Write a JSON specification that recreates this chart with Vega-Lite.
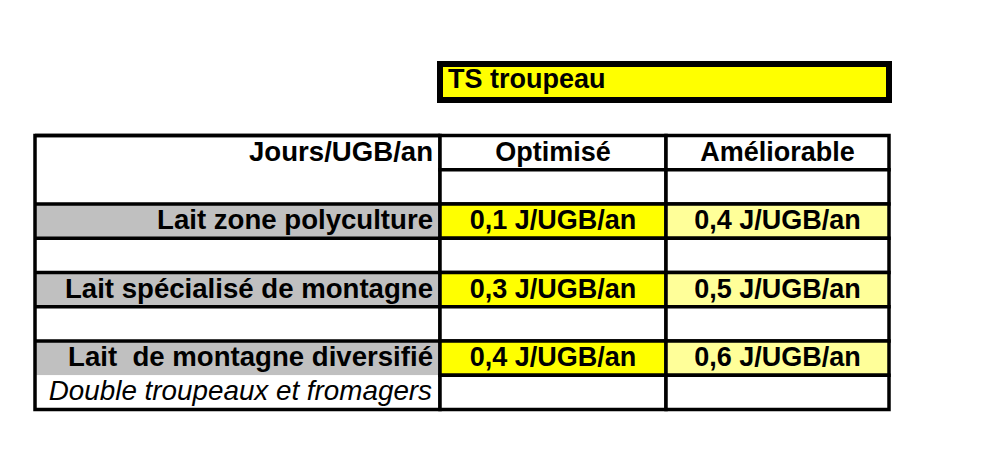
{
  "$schema": "https://vega.github.io/schema/vega-lite/v6.json",
  "background": "white",
  "padding": {"left": 33, "top": 61, "right": 5, "bottom": 5},
  "config": {
    "view": {"stroke": null},
    "scale": {"bandPaddingInner": 0, "bandPaddingOuter": 0},
    "text": {"font": "Liberation Sans", "fontSize": 27, "color": "black"}
  },
  "datasets": {
    "cells": [
      {"col": "label", "row": 1, "text": "Jours/UGB/an", "kind": "head", "merged": false},
      {"col": "label", "row": 2, "text": "", "kind": "blank", "merged": true},
      {"col": "label", "row": 3, "text": "Lait zone polyculture", "kind": "label", "merged": false},
      {"col": "label", "row": 4, "text": "", "kind": "blank", "merged": false},
      {"col": "label", "row": 5, "text": "Lait spécialisé de montagne\u00a0", "kind": "label", "merged": false},
      {"col": "label", "row": 6, "text": "", "kind": "blank", "merged": false},
      {"col": "label", "row": 7, "text": "Lait\u00a0 de montagne diversifié", "kind": "label", "merged": false},
      {"col": "label", "row": 8, "text": "Double troupeaux et fromagers", "kind": "note", "merged": true},
      {"col": "opt", "row": 1, "text": "Optimisé", "kind": "head", "merged": false},
      {"col": "opt", "row": 2, "text": "", "kind": "blank", "merged": false},
      {"col": "opt", "row": 3, "text": "0,1 J/UGB/an", "kind": "opt", "merged": false},
      {"col": "opt", "row": 4, "text": "", "kind": "blank", "merged": false},
      {"col": "opt", "row": 5, "text": "0,3 J/UGB/an", "kind": "opt", "merged": false},
      {"col": "opt", "row": 6, "text": "", "kind": "blank", "merged": false},
      {"col": "opt", "row": 7, "text": "0,4 J/UGB/an", "kind": "opt", "merged": false},
      {"col": "opt", "row": 8, "text": "", "kind": "blank", "merged": false},
      {"col": "amel", "row": 1, "text": "Améliorable", "kind": "head", "merged": false},
      {"col": "amel", "row": 2, "text": "", "kind": "blank", "merged": false},
      {"col": "amel", "row": 3, "text": "0,4 J/UGB/an", "kind": "amel", "merged": false},
      {"col": "amel", "row": 4, "text": "", "kind": "blank", "merged": false},
      {"col": "amel", "row": 5, "text": "0,5 J/UGB/an", "kind": "amel", "merged": false},
      {"col": "amel", "row": 6, "text": "", "kind": "blank", "merged": false},
      {"col": "amel", "row": 7, "text": "0,6 J/UGB/an", "kind": "amel", "merged": false},
      {"col": "amel", "row": 8, "text": "", "kind": "blank", "merged": false}
    ],
    "title": [{"text": "TS troupeau"}]
  },
  "bounds": "flush",
  "spacing": 71.5,
  "vconcat": [
    {
      "bounds": "flush",
      "spacing": 0,
      "hconcat": [
        {
          "width": 405,
          "height": 36,
          "data": {"values": [{}]},
          "mark": {"type": "rect", "opacity": 0},
          "encoding": {}
        },
        {
          "width": 449,
          "height": 36,
          "data": {"name": "title"},
          "layer": [
            {
              "mark": {"type": "rect", "fill": "#FFFF00", "stroke": "black", "strokeWidth": 6},
              "encoding": {}
            },
            {
              "mark": {"type": "text", "align": "left", "fontWeight": "bold", "dx": 8, "dy": -2},
              "encoding": {"x": {"value": 0}, "text": {"field": "text"}}
            }
          ]
        }
      ]
    },
    {
      "bounds": "flush",
      "spacing": 0,
      "hconcat": [
        {
          "width": 405,
          "height": 274,
          "layer": [
            {
              "data": {"name": "cells"},
              "transform": [{"filter": "datum.col === 'label'"}],
              "mark": {"type": "rect"},
              "encoding": {
                "y": {"field": "row", "type": "ordinal", "axis": null},
                "fill": {"field": "kind", "type": "nominal", "legend": null,
                  "scale": {"domain": ["head", "blank", "label", "note", "opt", "amel"],
                            "range": ["#FFFFFF", "#FFFFFF", "#C0C0C0", "#FFFFFF", "#FFFF00", "#FFFF99"]}}
              }
            },
            {
              "data": {"name": "cells"},
              "transform": [{"filter": "datum.col === 'label' && !datum.merged"}],
              "mark": {"type": "rule", "stroke": "black", "strokeWidth": 3.5},
              "encoding": {"y": {"field": "row", "type": "ordinal", "bandPosition": 0, "axis": null}}
            },
            {
              "data": {"name": "cells"},
              "transform": [{"filter": "datum.col === 'label' && datum.kind !== 'note'"}],
              "mark": {"type": "text", "align": "right", "fontWeight": "bold", "fontSize": 27.6, "dx": -7},
              "encoding": {
                "y": {"field": "row", "type": "ordinal", "axis": null},
                "x": {"value": "width"},
                "text": {"field": "text"}
              }
            },
            {
              "data": {"name": "cells"},
              "transform": [{"filter": "datum.col === 'label' && datum.kind === 'note'"}],
              "mark": {"type": "text", "align": "right", "fontStyle": "italic", "fontWeight": "normal", "fontSize": 27.8, "dx": -8},
              "encoding": {
                "y": {"field": "row", "type": "ordinal", "axis": null},
                "x": {"value": "width"},
                "text": {"field": "text"}
              }
            },
            {
              "data": {"values": [{}]},
              "mark": {"type": "rect", "fill": "transparent", "stroke": "black", "strokeWidth": 3.5},
              "encoding": {}
            }
          ]
        },
        {
          "width": 226,
          "height": 274,
          "data": {"name": "cells"},
          "transform": [{"filter": "datum.col === 'opt'"}],
          "encoding": {"y": {"field": "row", "type": "ordinal", "axis": null}},
          "layer": [
            {
              "mark": {"type": "rect", "stroke": "black", "strokeWidth": 3.5},
              "encoding": {
                "fill": {"field": "kind", "type": "nominal", "legend": null,
                  "scale": {"domain": ["head", "blank", "label", "note", "opt", "amel"],
                            "range": ["#FFFFFF", "#FFFFFF", "#C0C0C0", "#FFFFFF", "#FFFF00", "#FFFF99"]}}
              }
            },
            {
              "mark": {"type": "text", "align": "center", "fontWeight": "bold"},
              "encoding": {"text": {"field": "text"}}
            }
          ]
        },
        {
          "width": 223,
          "height": 274,
          "data": {"name": "cells"},
          "transform": [{"filter": "datum.col === 'amel'"}],
          "encoding": {"y": {"field": "row", "type": "ordinal", "axis": null}},
          "layer": [
            {
              "mark": {"type": "rect", "stroke": "black", "strokeWidth": 3.5},
              "encoding": {
                "fill": {"field": "kind", "type": "nominal", "legend": null,
                  "scale": {"domain": ["head", "blank", "label", "note", "opt", "amel"],
                            "range": ["#FFFFFF", "#FFFFFF", "#C0C0C0", "#FFFFFF", "#FFFF00", "#FFFF99"]}}
              }
            },
            {
              "mark": {"type": "text", "align": "center", "fontWeight": "bold"},
              "encoding": {"text": {"field": "text"}}
            }
          ]
        }
      ]
    }
  ]
}
